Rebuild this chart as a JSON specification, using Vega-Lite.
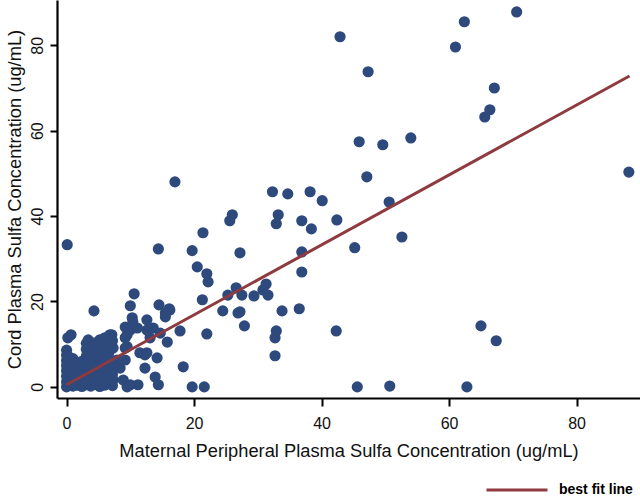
{
  "$schema": "https://vega.github.io/schema/vega-lite/v6.json",
  "width": 583,
  "height": 398,
  "autosize": {"type": "none"},
  "padding": {"left": 57, "top": 0, "right": 0, "bottom": 98},
  "background": "white",
  "config": {
    "view": {"stroke": null},
    "font": "Liberation Sans",
    "axis": {
      "grid": false,
      "domainColor": "#000000",
      "domainWidth": 2.2,
      "tickColor": "#000000",
      "tickWidth": 2,
      "tickSize": 8,
      "labelFont": "Liberation Sans",
      "labelFontSize": 16,
      "labelColor": "#111111",
      "titleFont": "Liberation Sans",
      "titleFontSize": 18.3,
      "titleFontWeight": "normal",
      "titleColor": "#111111"
    }
  },
  "datasets": {
    "pts": [
      {"x": 70.6, "y": 87.8}, {"x": 62.4, "y": 85.5}, {"x": 61.0, "y": 79.6}, {"x": 42.9, "y": 82.0},
      {"x": 47.3, "y": 73.8}, {"x": 67.1, "y": 70.0}, {"x": 66.4, "y": 64.9}, {"x": 65.6, "y": 63.2},
      {"x": 88.2, "y": 50.3}, {"x": 45.9, "y": 57.4}, {"x": 49.6, "y": 56.7}, {"x": 54.0, "y": 58.3},
      {"x": 47.1, "y": 49.2}, {"x": 40.1, "y": 43.6}, {"x": 50.6, "y": 43.3}, {"x": 42.4, "y": 39.1},
      {"x": 52.6, "y": 35.1}, {"x": 45.2, "y": 32.6}, {"x": 38.2, "y": 45.7}, {"x": 36.9, "y": 38.9},
      {"x": 38.4, "y": 37.0}, {"x": 36.9, "y": 31.6}, {"x": 36.9, "y": 26.9}, {"x": 32.3, "y": 45.7},
      {"x": 34.7, "y": 45.2}, {"x": 33.2, "y": 40.3}, {"x": 32.9, "y": 38.2}, {"x": 26.0, "y": 40.3},
      {"x": 25.6, "y": 38.9}, {"x": 21.4, "y": 36.1}, {"x": 19.7, "y": 31.9}, {"x": 27.2, "y": 31.4},
      {"x": 20.5, "y": 28.1}, {"x": 22.0, "y": 26.5}, {"x": 22.2, "y": 24.6}, {"x": 31.3, "y": 24.1},
      {"x": 30.8, "y": 22.7}, {"x": 31.6, "y": 21.5}, {"x": 29.4, "y": 21.3}, {"x": 26.6, "y": 23.2},
      {"x": 27.5, "y": 21.5}, {"x": 25.3, "y": 21.5}, {"x": 21.3, "y": 20.4}, {"x": 17.0, "y": 48.0},
      {"x": 0.1, "y": 33.3}, {"x": 14.4, "y": 32.3}, {"x": 24.5, "y": 17.8}, {"x": 27.2, "y": 17.6},
      {"x": 26.9, "y": 17.3}, {"x": 27.9, "y": 14.3}, {"x": 33.8, "y": 17.8}, {"x": 32.9, "y": 13.1},
      {"x": 32.7, "y": 11.5}, {"x": 32.7, "y": 7.3}, {"x": 36.5, "y": 18.3}, {"x": 22.0, "y": 12.4},
      {"x": 19.7, "y": 0.0}, {"x": 21.6, "y": 0.0}, {"x": 18.3, "y": 4.7}, {"x": 17.8, "y": 13.1},
      {"x": 16.2, "y": 18.0}, {"x": 15.5, "y": 17.3}, {"x": 14.5, "y": 19.2}, {"x": 10.6, "y": 21.8},
      {"x": 10.0, "y": 19.0}, {"x": 4.3, "y": 17.8}, {"x": 0.7, "y": 12.2}, {"x": 0.2, "y": 11.5},
      {"x": 42.3, "y": 13.1}, {"x": 65.0, "y": 14.3}, {"x": 67.4, "y": 10.8}, {"x": 45.6, "y": 0.0},
      {"x": 50.7, "y": 0.2}, {"x": 62.8, "y": 0.0},
      {"x": 10.3, "y": 16.2}, {"x": 12.6, "y": 15.7}, {"x": 15.5, "y": 16.4}, {"x": 10.0, "y": 13.3},
      {"x": 11.1, "y": 13.8}, {"x": 13.6, "y": 13.8}, {"x": 14.7, "y": 12.6}, {"x": 9.2, "y": 11.5},
      {"x": 13.1, "y": 11.5}, {"x": 15.8, "y": 10.5}, {"x": 7.3, "y": 9.1}, {"x": 9.2, "y": 9.1},
      {"x": 7.1, "y": 12.2}, {"x": 11.5, "y": 8.0}, {"x": 12.3, "y": 7.5}, {"x": 14.2, "y": 6.8},
      {"x": 12.3, "y": 4.4}, {"x": 8.4, "y": 4.4}, {"x": 13.9, "y": 2.3}, {"x": 14.4, "y": 0.5},
      {"x": 8.9, "y": 1.6}, {"x": 10.0, "y": 0.5}, {"x": 11.2, "y": 0.5}, {"x": 9.5, "y": 0.0},
      {"x": 7.3, "y": 1.6}, {"x": 7.9, "y": 6.3}, {"x": 16.1, "y": 18.3}, {"x": 12.6, "y": 13.3},
      {"x": 10.4, "y": 15.2}, {"x": 9.5, "y": 9.4}, {"x": 9.2, "y": 6.3}, {"x": 12.6, "y": 8.0},
      {"x": 6.8, "y": 12.2}, {"x": 9.5, "y": 12.2}, {"x": 3.4, "y": 11.0}, {"x": 6.0, "y": 11.5},
      {"x": 9.2, "y": 14.0},
      {"x": 0.0, "y": 0.0}, {"x": 0.0, "y": 1.2}, {"x": 0.0, "y": 2.5}, {"x": 0.0, "y": 3.8},
      {"x": 0.0, "y": 5.0}, {"x": 0.0, "y": 6.2}, {"x": 0.0, "y": 7.4}, {"x": 0.0, "y": 8.6},
      {"x": 0.4, "y": 0.6}, {"x": 0.4, "y": 2.0}, {"x": 0.4, "y": 3.3}, {"x": 0.4, "y": 4.6},
      {"x": 0.4, "y": 5.9}, {"x": 0.4, "y": 7.0},
      {"x": 1.0, "y": 0.2}, {"x": 1.0, "y": 1.5}, {"x": 1.0, "y": 2.8}, {"x": 1.0, "y": 4.1},
      {"x": 1.0, "y": 5.4}, {"x": 1.0, "y": 6.6},
      {"x": 1.7, "y": 0.4}, {"x": 1.7, "y": 1.8}, {"x": 1.7, "y": 3.0}, {"x": 1.7, "y": 4.3},
      {"x": 1.7, "y": 5.5},
      {"x": 2.4, "y": 0.1}, {"x": 2.4, "y": 1.3}, {"x": 2.4, "y": 2.6}, {"x": 2.4, "y": 3.9},
      {"x": 2.4, "y": 5.0}, {"x": 2.4, "y": 6.0},
      {"x": 3.1, "y": 0.5}, {"x": 3.1, "y": 1.9}, {"x": 3.1, "y": 3.2}, {"x": 3.1, "y": 4.5},
      {"x": 3.1, "y": 5.8}, {"x": 3.1, "y": 7.2}, {"x": 3.1, "y": 8.8}, {"x": 3.1, "y": 10.2},
      {"x": 3.8, "y": 0.2}, {"x": 3.8, "y": 1.4}, {"x": 3.8, "y": 2.7}, {"x": 3.8, "y": 4.0},
      {"x": 3.8, "y": 5.3}, {"x": 3.8, "y": 6.7}, {"x": 3.8, "y": 8.0}, {"x": 3.8, "y": 9.4},
      {"x": 4.5, "y": 0.6}, {"x": 4.5, "y": 2.0}, {"x": 4.5, "y": 3.4}, {"x": 4.5, "y": 4.8},
      {"x": 4.5, "y": 6.1}, {"x": 4.5, "y": 7.5}, {"x": 4.5, "y": 8.9}, {"x": 4.5, "y": 10.3},
      {"x": 5.2, "y": 0.1}, {"x": 5.2, "y": 1.5}, {"x": 5.2, "y": 2.8}, {"x": 5.2, "y": 4.2},
      {"x": 5.2, "y": 5.6}, {"x": 5.2, "y": 7.0}, {"x": 5.2, "y": 8.3}, {"x": 5.2, "y": 9.6},
      {"x": 5.2, "y": 11.0},
      {"x": 5.9, "y": 0.4}, {"x": 5.9, "y": 1.8}, {"x": 5.9, "y": 3.1}, {"x": 5.9, "y": 4.5},
      {"x": 5.9, "y": 5.9}, {"x": 5.9, "y": 7.3}, {"x": 5.9, "y": 8.7}, {"x": 5.9, "y": 10.0},
      {"x": 6.6, "y": 0.9}, {"x": 6.6, "y": 2.3}, {"x": 6.6, "y": 3.7}, {"x": 6.6, "y": 5.0},
      {"x": 6.6, "y": 6.4}, {"x": 6.6, "y": 7.8}, {"x": 6.6, "y": 9.2},
      {"x": 7.2, "y": 0.3}, {"x": 7.2, "y": 2.9}, {"x": 7.2, "y": 4.3}, {"x": 7.2, "y": 10.8}
    ],
    "fit": [
      {"x": 0.0, "y": 0.5, "series": "best fit line"},
      {"x": 88.3, "y": 72.8, "series": "best fit line"}
    ]
  },
  "layer": [
    {
      "data": {"name": "pts"},
      "mark": {"type": "circle", "size": 125, "color": "#2e4a7d", "opacity": 1},
      "encoding": {
        "x": {
          "field": "x", "type": "quantitative",
          "scale": {"domain": [-1.5, 89.95], "nice": false, "zero": false},
          "axis": {
            "title": "Maternal Peripheral Plasma Sulfa Concentration (ug/mL)",
            "values": [0, 20, 40, 60, 80],
            "labelPadding": 9,
            "titlePadding": 11
          }
        },
        "y": {
          "field": "y", "type": "quantitative",
          "scale": {"domain": [-2.6, 90.6], "nice": false, "zero": false},
          "axis": {
            "title": "Cord Plasma Sulfa Concentration (ug/mL)",
            "values": [0, 20, 40, 60, 80],
            "tickSize": 7,
            "labelAngle": 270,
            "labelAlign": "center",
            "labelBaseline": "bottom",
            "labelPadding": 5,
            "titlePadding": 5
          }
        }
      }
    },
    {
      "data": {"name": "fit"},
      "mark": {"type": "line", "strokeWidth": 3},
      "encoding": {
        "x": {"field": "x", "type": "quantitative"},
        "y": {"field": "y", "type": "quantitative"},
        "color": {
          "field": "series", "type": "nominal",
          "scale": {"range": ["#8e3a3f"]},
          "legend": {
            "title": null,
            "orient": "none",
            "legendX": 428,
            "legendY": 458,
            "padding": 0,
            "symbolType": "stroke",
            "symbolSize": 3721,
            "symbolStrokeWidth": 3,
            "labelFont": "Liberation Sans",
            "labelFontSize": 14,
            "labelFontWeight": "bold",
            "labelColor": "#000000",
            "labelOffset": 10
          }
        }
      }
    }
  ]
}
